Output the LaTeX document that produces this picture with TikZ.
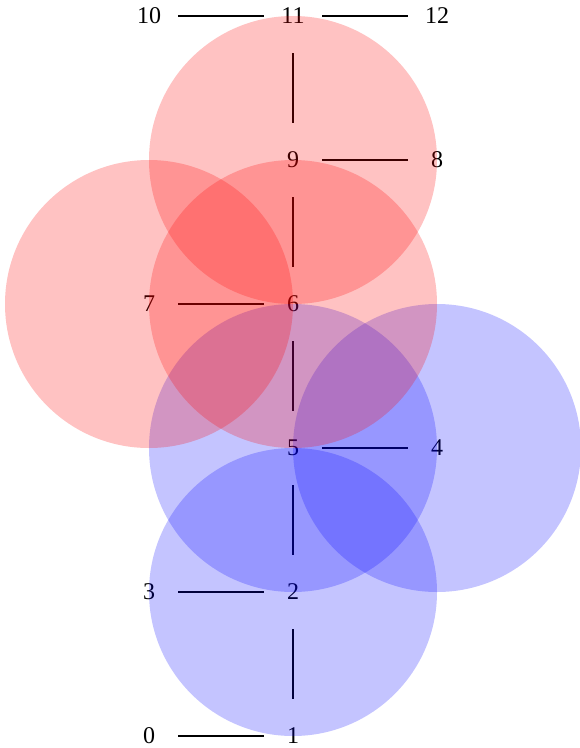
\documentclass[tikz,border=0pt]{standalone}
\usepackage{fontspec}
\setmainfont{Liberation Serif}
\begin{document}
\begin{tikzpicture}[x=1pt,y=-1pt,
  lbl/.style={inner sep=0pt,minimum width=58pt,minimum height=74pt,font=\fontsize{24}{28}\selectfont},
  edge/.style={line width=1.5pt,black},
  redc/.style={fill=red,fill opacity=0.24,draw=none},
  bluec/.style={fill=blue,fill opacity=0.23,draw=none}]
\useasboundingbox (0,0) rectangle (580,748);
\node[lbl] (n0) at (149,736) {0};
\node[lbl] (n1) at (293,736) {1};
\node[lbl] (n2) at (293,592) {2};
\node[lbl] (n3) at (149,592) {3};
\node[lbl] (n4) at (437,448) {4};
\node[lbl] (n5) at (293,448) {5};
\node[lbl] (n6) at (293,304) {6};
\node[lbl] (n7) at (149,304) {7};
\node[lbl] (n8) at (437,160) {8};
\node[lbl] (n9) at (293,160) {9};
\node[lbl] (n10) at (149,16) {10};
\node[lbl] (n11) at (293,16) {11};
\node[lbl] (n12) at (437,16) {12};
\draw[edge] (n0) -- (n1);
\draw[edge] (n1) -- (n2);
\draw[edge] (n2) -- (n3);
\draw[edge] (n2) -- (n5);
\draw[edge] (n5) -- (n4);
\draw[edge] (n5) -- (n6);
\draw[edge] (n6) -- (n7);
\draw[edge] (n6) -- (n9);
\draw[edge] (n9) -- (n8);
\draw[edge] (n9) -- (n11);
\draw[edge] (n11) -- (n10);
\draw[edge] (n11) -- (n12);
\fill[bluec] (n2.center) circle (144);
\fill[bluec] (n5.center) circle (144);
\fill[bluec] (n4.center) circle (144);
\fill[redc] (n6.center) circle (144);
\fill[redc] (n7.center) circle (144);
\fill[redc] (n9.center) circle (144);
\end{tikzpicture}
\end{document}
